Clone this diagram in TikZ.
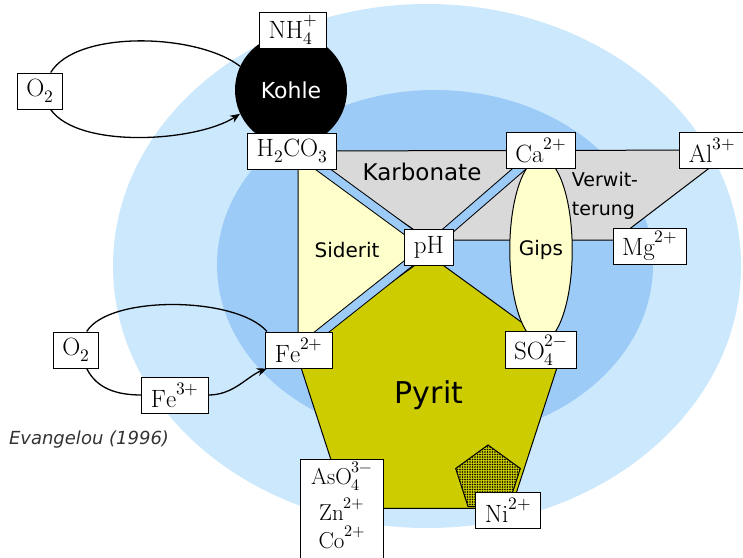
\documentclass[tikz,border=0pt]{standalone}
\usepackage{fontspec}
\usepackage{unicode-math}
\setmathfont{Latin Modern Math}
\newfontfamily\labelfont{DejaVu Sans}
\usetikzlibrary{arrows.meta,shapes.geometric,patterns.meta,backgrounds}
\definecolor{zoneouter}{HTML}{CCE8FC}
\definecolor{zoneinner}{HTML}{9CCBF8}
\definecolor{pyritgreen}{HTML}{CCCC00}
\definecolor{paleyellow}{HTML}{FFFFCC}
\definecolor{carbgray}{HTML}{D9D9D9}
\tikzset{
  species/.style={rectangle,draw=black,line width=1pt,fill=white,
    minimum height=36pt,inner xsep=9pt,inner ysep=3pt,
    font=\fontsize{25}{32}\selectfont},
  field/.style={draw=black,line width=1pt},
  channel/.style={line width=1pt,draw=black,double=zoneinner,double distance=8pt},
  redox/.style={line width=1.3pt,draw=black},
  mineral/.style={font=\fontsize{20}{24}\selectfont\labelfont}
}

\begin{document}
\begin{tikzpicture}[x=1pt,y=-1pt]
  \useasboundingbox (0,0) rectangle (743,557);
  \clip (0,0) rectangle (743,557);
  \node[circle,fill=black,minimum size=112pt,text=white,
    font=\fontsize{22}{26}\selectfont\labelfont] (kohle) at (291,90) {Kohle};
  \node[species] (nh4) at (293,30) {$\mathrm{NH}_4^+$};
  \node[species] (h2co3) at (292,151) {$\mathrm{H}_2\mathrm{CO}_3$};
  \node[species] (ca) at (541,150) {$\mathrm{Ca}^{2+}$};
  \node[species] (al) at (712,150) {$\mathrm{Al}^{3+}$};
  \node[species] (ph) at (429,247) {$\mathrm{pH}$};
  \node[species] (mg) at (650,246) {$\mathrm{Mg}^{2+}$};
  \node[species] (fe2) at (299,350) {$\mathrm{Fe}^{2+}$};
  \node[species] (so4) at (541,350) {$\mathrm{SO}_4^{2-}$};
  \node[species] (o2top) at (40,91) {$\mathrm{O}_2$};
  \node[species] (o2low) at (76,350) {$\mathrm{O}_2$};
  \node[species] (fe3) at (175,395) {$\mathrm{Fe}^{3+}$};
  \node[species] (ni) at (508,510) {$\mathrm{Ni}^{2+}$};
  \node[species,anchor=north,align=center,inner ysep=2pt,inner xsep=11pt,
    font=\fontsize{23}{28}\selectfont] (traces) at (342,459)
    {$\mathrm{AsO}_4^{3-}$\\[7pt]$\mathrm{Zn}^{2+}$\\$\mathrm{Co}^{2+}$\\[-10pt]};
  \node[font=\fontsize{18}{22}\selectfont\labelfont\itshape,text=black!80] (source) at (89,440) {Evangelou (1996)};

  \begin{pgfonlayer}{background}
    \fill[zoneouter] (427,266) ellipse [x radius=314pt,y radius=262pt];
    \fill[zoneinner] (435,265) ellipse [x radius=218pt,y radius=175pt];
    \draw[field,fill=carbgray] ([xshift=6pt]h2co3.center) -- ([xshift=21pt]al.center)
      -- ([xshift=-35pt,yshift=6pt]mg.center) -- ([yshift=7pt]ph.center) -- cycle;
    \draw[field,fill=paleyellow] ([xshift=6pt]h2co3.center) -- ([xshift=-1pt]fe2.center) -- (ph.center) -- cycle;
    \node[regular polygon,regular polygon sides=5,minimum size=280pt,field,fill=pyritgreen,
      font=\fontsize{30}{36}\selectfont\labelfont] (pyrit) at (429,395) {Pyrit};
    \node[regular polygon,regular polygon sides=5,minimum size=68pt,field,
      preaction={fill=pyritgreen},pattern={Dots[radius=0.9pt,distance=2.5pt]},pattern color=black] (nickel) at (488,479) {};
    \node[ellipse,field,fill=paleyellow,minimum width=57pt,minimum height=184pt,inner sep=0pt,
      mineral] (gips) at (541,250) {Gips};
    \draw[channel] ([xshift=6pt]h2co3.center) -- (ph.center);
    \draw[channel] (ca.center) -- (ph.center);
    \draw[channel] (fe2.center) -- (ph.center);
  \end{pgfonlayer}

  \node[mineral,font=\fontsize{23}{28}\selectfont\labelfont] (karbonate) at (422,172) {Karbonate};
  \node[mineral] (siderit) at (347,250) {Siderit};
  \node[mineral,font=\fontsize{19}{29}\selectfont\labelfont,align=left] (verwitterung) at (605,196) {Verwit-\\terung};

  \draw[redox] (kohle.155) .. controls +(-43,-33) and +(26,-43) .. (o2top.60);
  \draw[redox,-{Stealth[length=10pt,width=8pt]}] (o2top.-60) .. controls +(28,40) and +(-43,28) .. (kohle.205);
  \draw[redox] (fe2.150) .. controls +(-30,-35) and +(23,-37) .. (o2low.60);
  \draw[redox] (o2low.-60) .. controls +(10,20) and +(-25,0) .. (fe3.west);
  \draw[redox,-{Stealth[length=10pt,width=8pt]}] (fe3.east) .. controls +(25,0) and +(-20,8) .. (fe2.210);
\end{tikzpicture}
\end{document}
